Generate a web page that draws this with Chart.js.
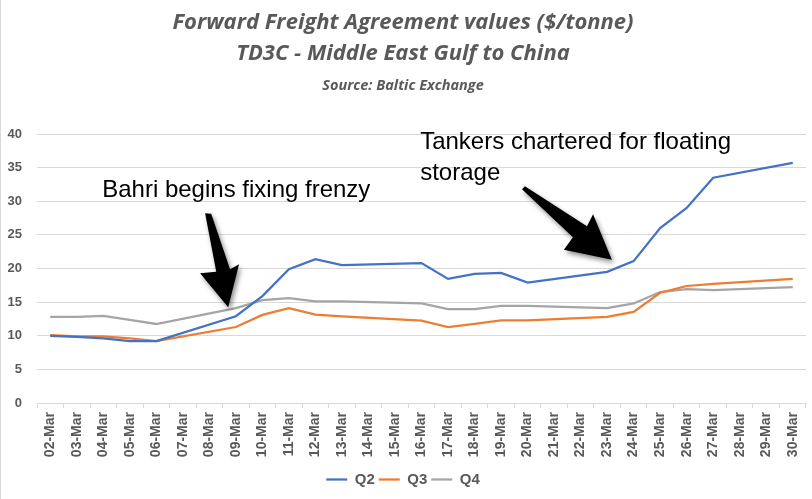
<!DOCTYPE html>
<html>
<head>
<meta charset="utf-8">
<script src="https://cdn.jsdelivr.net/npm/chart.js@4.4.0/dist/chart.umd.min.js"></script>
<style>
  html, body { margin: 0; padding: 0; background: #ffffff; }
  #wrap { position: relative; width: 812px; height: 499px; }
</style>
</head>
<body>
<div id="wrap"><canvas id="c" width="812" height="499"></canvas></div>
<script>
// ---------- data ----------
const categories = ['02-Mar','03-Mar','04-Mar','05-Mar','06-Mar','07-Mar','08-Mar','09-Mar','10-Mar',
  '11-Mar','12-Mar','13-Mar','14-Mar','15-Mar','16-Mar','17-Mar','18-Mar','19-Mar','20-Mar','21-Mar',
  '22-Mar','23-Mar','24-Mar','25-Mar','26-Mar','27-Mar','28-Mar','29-Mar','30-Mar'];
// weekends have no assessment (null); the line spans across them
const q2 = [10.0, 9.85, 9.6, 9.2, 9.2, null, null, 12.9, 15.9, 19.9, 21.4, 20.5, null, null, 20.8,
  18.45, 19.2, 19.35, 17.9, null, null, 19.5, 21.1, 26.0, 29.0, 33.5, null, null, 35.7];
const q3 = [10.1, 9.9, 9.9, 9.6, 9.2, null, null, 11.3, 13.1, 14.1, 13.15, 12.9, null, null, 12.25,
  11.3, 11.75, 12.3, 12.3, null, null, 12.8, 13.55, 16.4, 17.4, 17.7, null, null, 18.45];
const q4 = [12.8, 12.8, 12.95, 12.35, 11.75, null, null, 14.1, 15.3, 15.6, 15.1, 15.1, null, null, 14.8,
  13.95, 13.95, 14.45, 14.45, null, null, 14.1, 14.8, 16.5, 16.95, 16.8, null, null, 17.25];
const seriesNames = ['Q2', 'Q3', 'Q4'];
const seriesColors = ['#4472C4', '#ED7D31', '#A5A5A5'];
const yTicks = [0, 5, 10, 15, 20, 25, 30, 35, 40];
const titleLines = ['Forward Freight Agreement values ($/tonne)', 'TD3C - Middle East Gulf to China'];
const subtitleText = 'Source: Baltic Exchange';

// annotations in data space (category index, value)
const notes = [
  { lines: ['Bahri begins fixing frenzy'], x: 1.96, y: 30.57 },
  { lines: ['Tankers chartered for floating', 'storage'], x: 13.95, y: 37.71 }
];
const arrows = [
  [[5.84, 28.23], [6.07, 28.15], [6.78, 19.9], [7.12, 20.64], [6.71, 14.24], [5.65, 19.3], [6.26, 19.52]],
  [[17.9, 32.25], [20.24, 26.29], [20.47, 28.08], [21.18, 21.31], [19.37, 22.8], [19.71, 24.66], [17.79, 31.8]]
];

const GRAY = '#595959';
const GRID = '#d9d9d9';
const TITLE_FONT = '"Open Sans", Lato, sans-serif';

const annotationPlugin = {
  id: 'notes',
  afterDatasetsDraw(chart) {
    const ctx = chart.ctx, xs = chart.scales.x, ys = chart.scales.y;
    ctx.save();
    arrows.forEach(pts => {
      ctx.save();
      ctx.shadowColor = 'rgba(0,0,0,0.45)';
      ctx.shadowBlur = 5;
      ctx.shadowOffsetX = 2;
      ctx.shadowOffsetY = 3;
      ctx.fillStyle = '#000';
      ctx.beginPath();
      pts.forEach((p, i) => {
        const px = xs.getPixelForValue(p[0]), py = ys.getPixelForValue(p[1]);
        if (i === 0) ctx.moveTo(px, py); else ctx.lineTo(px, py);
      });
      ctx.closePath();
      ctx.fill();
      ctx.restore();
    });
    ctx.fillStyle = '#000';
    ctx.font = '24px "Liberation Sans", Arial, sans-serif';
    ctx.textBaseline = 'alphabetic';
    ctx.textAlign = 'left';
    notes.forEach(n => {
      const px = xs.getPixelForValue(n.x), py = ys.getPixelForValue(n.y);
      n.lines.forEach((t, i) => ctx.fillText(t, px, py + i * 30.7));
    });
    ctx.strokeStyle = GRID;
    ctx.lineWidth = 1;
    ctx.beginPath();
    ctx.moveTo(0.5, 0);
    ctx.lineTo(0.5, chart.height);
    ctx.stroke();
    ctx.restore();
  }
};

new Chart(document.getElementById('c'), {
  type: 'line',
  data: {
    labels: categories,
    datasets: [q2, q3, q4].map((d, i) => ({
      label: seriesNames[i],
      data: d,
      borderColor: seriesColors[i],
      backgroundColor: seriesColors[i],
      borderWidth: 2.25,
      pointRadius: 0,
      pointHoverRadius: 0,
      tension: 0,
      spanGaps: true,
      fill: false
    }))
  },
  options: {
    responsive: false,
    animation: false,
    layout: { padding: { left: 0, right: 6, top: 0, bottom: 2 } },
    plugins: {
      title: {
        display: true,
        text: titleLines,
        color: GRAY,
        font: { family: TITLE_FONT, size: 22, weight: 'bold', style: 'italic', lineHeight: 1.38 },
        padding: { top: 8, bottom: 8 }
      },
      subtitle: {
        display: true,
        text: subtitleText,
        color: GRAY,
        font: { family: TITLE_FONT, size: 14.5, weight: 'bold', style: 'italic', lineHeight: 1.2 },
        padding: { top: 0, bottom: 39.9 }
      },
      legend: {
        position: 'bottom',
        labels: {
          usePointStyle: true,
          pointStyle: 'line',
          pointStyleWidth: 21,
          padding: 4,
          color: GRAY,
          font: { family: '"Liberation Sans", Arial, sans-serif', size: 15, weight: 'bold' }
        }
      },
      tooltip: { enabled: false }
    },
    scales: {
      x: {
        offset: true,
        afterFit(scale) { scale.height = 65; scale.paddingRight = 0; scale.paddingLeft = 0; },
        grid: { display: true, drawOnChartArea: false, drawTicks: true, tickLength: 5, color: GRID, offset: true },
        border: { display: true, color: GRID },
        ticks: {
          autoSkip: false, minRotation: 90, maxRotation: 90, padding: 4,
          color: GRAY,
          font: { family: '"Liberation Sans", Arial, sans-serif', size: 14, weight: 'bold' }
        }
      },
      y: {
        min: 0, max: 40,
        afterBuildTicks(scale) { scale.ticks = yTicks.map(v => ({ value: v })); },
        afterFit(scale) { scale.width = 37; },
        grid: { color: GRID, drawTicks: false },
        border: { display: false },
        ticks: {
          padding: 15,
          color: GRAY,
          font: { family: '"Liberation Sans", Arial, sans-serif', size: 13, weight: 'bold' }
        }
      }
    }
  },
  plugins: [annotationPlugin]
});
</script>
</body>
</html>
